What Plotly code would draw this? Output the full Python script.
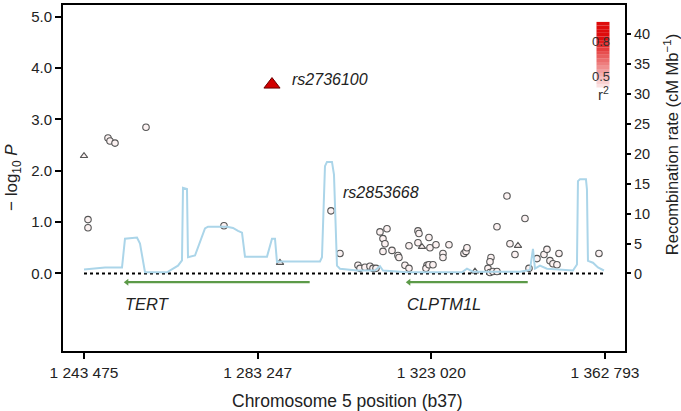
import plotly.graph_objects as go

# ---------------- data ----------------
tick_pos = [1243475, 1283247, 1323020, 1362793]
tick_text = ["1 243 475", "1 283 247", "1 323 020", "1 362 793"]

# SNPs (circles)
snp_x = [1244391, 1244391, 1248971, 1249429, 1250574, 1257673, 1275535, 1300038,
         1302099, 1306221, 1306679, 1307824, 1308969, 1309656, 1310343, 1311259,
         1312862, 1311946, 1312404, 1311946, 1314007, 1315381, 1315610, 1316984,
         1317900, 1317900, 1319961, 1320190, 1319961, 1322480, 1322709, 1324083,
         1322022, 1321793, 1322480, 1323396, 1325686, 1325686, 1327060, 1330495,
         1330953, 1331182, 1336678, 1336449, 1335991, 1336449, 1337136, 1338052,
         1340342, 1338052, 1344464, 1341029, 1342174, 1345380, 1347212, 1348815,
         1349502, 1350189, 1350876, 1351792, 1352250, 1361410]
snp_y = [1.05, 0.89, 2.64, 2.58, 2.54, 2.85, 0.93, 1.22,
         0.39, 0.16, 0.10, 0.12, 0.14, 0.10, 0.10, 0.81,
         0.87, 0.68, 0.58, 0.43, 0.45, 0.35, 0.31, 0.16,
         0.10, 0.54, 0.83, 0.78, 0.60, 0.70, 0.50, 0.56,
         0.16, 0.10, 0.17, 0.17, 0.39, 0.31, 0.56, 0.39,
         0.43, 0.50, 0.31, 0.23, 0.10, 0.02, 0.04, 0.04,
         1.51, 0.91, 1.07, 0.58, 0.37, 0.10, 0.29, 0.37,
         0.47, 0.25, 0.19, 0.17, 0.39, 0.39]

# SNPs (triangles)
tri_x = [1243475, 1288359, 1320877, 1333014, 1342861]
tri_y = [2.29, 0.21, 0.52, 0.04, 0.54]

# lead SNP
lead_name = "rs2736100"
lead_x = [1286527]
lead_y = [3.68]
second_name = "rs2853668"
second_x = 1300038
second_y = 1.22

# recombination rate (cM/Mb)
rec_x = [1243475, 1248284, 1252177, 1252864, 1255612, 1256299, 1257444, 1262482,
         1265001, 1265917, 1266146, 1267062, 1267291, 1268894, 1271184, 1271871,
         1276222, 1277596, 1278741, 1279657, 1280344, 1285382, 1286527, 1287214,
         1287672, 1288359, 1297519, 1297977, 1298664, 1299122, 1300267, 1300725,
         1301412, 1302099, 1305992, 1310114, 1311259, 1311946, 1317442, 1330037,
         1331182, 1332556, 1343319, 1345609, 1346296, 1346754, 1347899, 1349502,
         1355456, 1356372, 1356601, 1357059, 1358433, 1358662, 1358891, 1360036,
         1361181, 1362555]
rec_y = [0.66, 1.0, 1.0, 5.8, 6.0, 5.0, 0.2, 0.2,
         1.3, 2.2, 14.3, 14.1, 2.7, 3.0, 7.5, 7.8,
         7.8, 7.6, 7.1, 6.8, 2.8, 2.8, 5.8, 5.8,
         1.9, 2.0, 2.0, 2.7, 17.9, 18.6, 18.6, 16.5,
         1.3, 0.8, 0.5, 0.5, 1.2, 0.5, 0.2, 0.2,
         0.8, 0.3, 0.3, 0.6, 4.1, 0.8, 1.3, 0.8,
         0.5, 1.5, 15.4, 15.7, 15.7, 14.0, 2.1, 1.8,
         1.0, 0.5]

genes = ["TERT", "CLPTM1L"]
gene_start = [1253282, 1317859]
gene_end = [1295162, 1345099]

baseline_x = [1243475, 1362793]
baseline_y = [0, 0]

legend_labels = ["0.8", "0.5"]

# ---------------- figure ----------------
FONT = "Liberation Sans, Arial, sans-serif"
TXT = "#222"
fig = go.Figure()

# recombination rate on right axis
fig.add_trace(go.Scatter(x=rec_x, y=rec_y, mode="lines", yaxis="y2",
                         line=dict(color="#abd5e9", width=2), hoverinfo="skip",
                         showlegend=False))

# dotted baseline
fig.add_trace(go.Scatter(x=baseline_x, y=baseline_y, mode="lines",
                         line=dict(color="black", width=2.2, dash="dot"),
                         showlegend=False, hoverinfo="skip"))

# gene bars
for g, s, e in zip(genes, gene_start, gene_end):
    fig.add_trace(go.Scatter(x=[s, e], y=[-0.17, -0.17], mode="lines",
                             line=dict(color="#5c9a48", width=2.2),
                             showlegend=False, hoverinfo="skip"))
    fig.add_trace(go.Scatter(x=[s], y=[-0.17], mode="markers",
                             marker=dict(symbol="triangle-left", size=6, color="#5c9a48"),
                             showlegend=False, hoverinfo="skip"))
    fig.add_annotation(x=s, y=-0.6, text="<i>" + g + "</i>", showarrow=False,
                       xanchor="left", yanchor="middle", xshift=-4,
                       font=dict(family=FONT, size=16.5, color=TXT))

# SNP circles
fig.add_trace(go.Scatter(x=snp_x, y=snp_y, mode="markers",
                         marker=dict(symbol="circle", size=6.5, color="#fcf2f2",
                                     line=dict(color="#555", width=1.1)),
                         showlegend=False))
fig.add_trace(go.Scatter(x=tri_x, y=tri_y, mode="markers",
                         marker=dict(symbol="triangle-up", size=6.5, color="#fcf2f2",
                                     line=dict(color="#555", width=1.1)),
                         showlegend=False))
fig.add_trace(go.Scatter(x=lead_x, y=lead_y, mode="markers",
                         marker=dict(symbol="triangle-up", size=14, color="#d10000",
                                     line=dict(color="#6a0000", width=1)),
                         showlegend=False))

fig.add_annotation(x=lead_x[0], y=lead_y[0], text="<i>" + lead_name + "</i>",
                   showarrow=False, xanchor="left", yanchor="middle", xshift=18, yshift=5,
                   font=dict(family=FONT, size=16, color=TXT))
fig.add_annotation(x=second_x, y=second_y, text="<i>" + second_name + "</i>",
                   showarrow=False, xanchor="left", yanchor="middle", xshift=10, yshift=18,
                   font=dict(family=FONT, size=16, color=TXT))

# r^2 legend gradient (paper coordinates; plot area px 63-625 x, 3-351 y)
def px2paper_x(px):
    return (px - 63) / 562.0

def px2paper_y(py):
    return (351 - py) / 348.0

n = 18
top, bot = 20, 86
for i in range(n):
    y0 = top + (bot - top) * i / n
    y1 = top + (bot - top) * (i + 1) / n
    a = 1.0 if i < 4 else max(0.06, 1.0 - (i - 4) / (n - 4) * 0.94)
    fig.add_shape(type="rect", xref="paper", yref="paper",
                  x0=px2paper_x(596.5), x1=px2paper_x(609.5),
                  y0=px2paper_y(y1), y1=px2paper_y(y0),
                  line=dict(width=0), fillcolor=f"rgba(222,12,12,{a:.3f})")
for lab, py in zip(legend_labels, [40, 75]):
    fig.add_annotation(xref="paper", yref="paper", x=px2paper_x(601), y=px2paper_y(py),
                       text=lab, showarrow=False, xanchor="center", yanchor="middle",
                       font=dict(family=FONT, size=13, color="#333"))
fig.add_annotation(xref="paper", yref="paper", x=px2paper_x(603), y=px2paper_y(92),
                   text="r<sup>2</sup>", showarrow=False, xanchor="center", yanchor="middle",
                   font=dict(family=FONT, size=15, color="#333"))

# axis titles as annotations
fig.add_annotation(xref="paper", yref="paper", x=px2paper_x(13), y=px2paper_y(177),
                   text="− log<sub>10</sub> <i>P</i>", textangle=-90, showarrow=False,
                   xanchor="center", yanchor="middle",
                   font=dict(family=FONT, size=17, color=TXT))
fig.add_annotation(xref="paper", yref="paper", x=px2paper_x(671), y=px2paper_y(144),
                   text="Recombination rate (cM Mb<sup>−1</sup>)", textangle=-90, showarrow=False,
                   xanchor="center", yanchor="middle",
                   font=dict(family=FONT, size=16.5, color=TXT))
fig.add_annotation(xref="paper", yref="paper", x=px2paper_x(347), y=px2paper_y(401),
                   text="Chromosome 5 position (b37)", showarrow=False,
                   xanchor="center", yanchor="middle",
                   font=dict(family=FONT, size=17.5, color=TXT))

left_range = [-1.51, 5.23]
ratio = 8.56

fig.update_layout(
    width=681, height=411,
    margin=dict(l=63, r=56, t=3, b=60),
    paper_bgcolor="white", plot_bgcolor="white",
    font=dict(family=FONT, size=15, color=TXT),
    showlegend=False,
    xaxis=dict(range=[1238666, 1367373], tickvals=tick_pos, ticktext=tick_text,
               showgrid=False, zeroline=False, showline=True, linecolor="black",
               linewidth=1.8, mirror=True, ticks="outside", ticklen=6, tickwidth=1.5,
               tickcolor="black", tickfont=dict(size=15.5, color=TXT)),
    yaxis=dict(range=left_range, tickvals=[0, 1, 2, 3, 4, 5],
               ticktext=["0.0", "1.0", "2.0", "3.0", "4.0", "5.0"],
               showgrid=False, zeroline=False, showline=True, linecolor="black",
               linewidth=1.8, mirror=True, ticks="outside", ticklen=6, tickwidth=1.5,
               tickcolor="black", tickfont=dict(size=15, color=TXT)),
    yaxis2=dict(range=[left_range[0] * ratio, left_range[1] * ratio], overlaying="y",
                side="right", tickvals=[0, 5, 10, 15, 20, 25, 30, 35, 40],
                showgrid=False, zeroline=False, showline=False, ticks="outside",
                ticklen=5, tickwidth=1.5, tickcolor="black",
                tickfont=dict(size=14.5, color=TXT)),
)

fig.write_html("out.html", config={"displayModeBar": False},
               post_script="document.body.style.margin='0px';")
